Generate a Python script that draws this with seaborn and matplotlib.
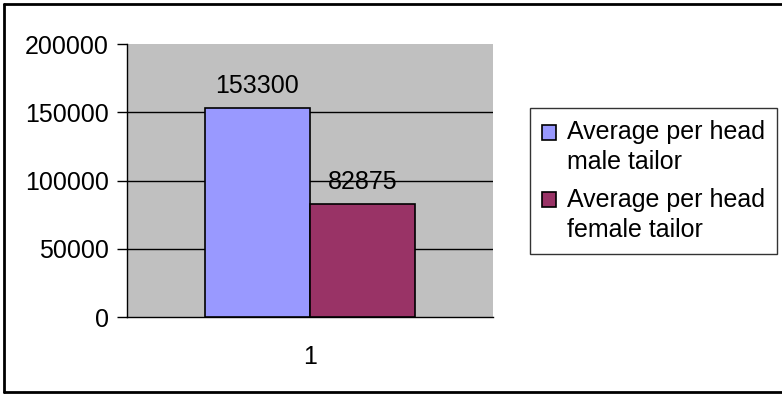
import pandas as pd
import matplotlib.pyplot as plt
import seaborn as sns
from matplotlib.patches import Rectangle
from matplotlib.lines import Line2D
from matplotlib.legend_handler import HandlerPatch

categories = ["1", "1"]
series = ["Average per head\nmale tailor", "Average per head\nfemale tailor"]
values = [153300, 82875]
colors = ["#9999FF", "#993366"]
yticks = [0, 50000, 100000, 150000, 200000]

df = pd.DataFrame({"cat": categories, "series": series, "value": values})

sns.set_style("white")
plt.rcParams["font.family"] = ["Liberation Sans", "DejaVu Sans"]
plt.rcParams["text.color"] = "black"
plt.rcParams["xtick.color"] = "black"
plt.rcParams["ytick.color"] = "black"

fig = plt.figure(figsize=(7.82, 3.94), dpi=100)
ax = fig.add_axes([0.1624, 0.1954, 0.468, 0.6929])
ax.set_facecolor("#C0C0C0")

sns.barplot(data=df, x="cat", y="value", hue="series", palette=colors, saturation=1,
            width=0.574, edgecolor="black", linewidth=1.2, ax=ax, zorder=3)

for c in ax.containers:
    ax.bar_label(c, fmt="%d", padding=7, fontsize=18, color="black", zorder=4)

ax.set_ylim(0, 200000)
ax.set_yticks(yticks)
ax.set_yticklabels([str(t) for t in yticks], fontsize=18)
ax.set_xlim(-0.5, 0.5)
ax.set_xticks([0])
ax.set_xticklabels(["1"], fontsize=18)
ax.set_xticks([-0.5, 0.5], minor=True)
ax.tick_params(axis="x", which="major", length=0, pad=20, labelcolor="black")
ax.tick_params(axis="x", which="minor", length=7, width=1, color="black", direction="out")
ax.tick_params(axis="y", length=7, width=1, color="black", direction="out", left=True,
               pad=6, labelcolor="black")
ax.set_xlabel("")
ax.set_ylabel("")

for y in yticks[1:-1]:
    ax.axhline(y, color="black", linewidth=1, zorder=1)

for s in ["top", "right"]:
    ax.spines[s].set_visible(False)
for s in ["left", "bottom"]:
    ax.spines[s].set_color("black")
    ax.spines[s].set_linewidth(1)


# legend square sits on the first text line, as in Excel
def top_square(legend, orig_handle, xdescent, ydescent, width, height, fontsize):
    return Rectangle((-xdescent, -ydescent + 0.62 * fontsize), width, height)


handles, labels = ax.get_legend_handles_labels()
leg = ax.legend(handles, labels, loc="upper left", bbox_to_anchor=(1.101, 0.766),
                fontsize=18, frameon=True, fancybox=False, edgecolor="black",
                handlelength=0.55, handleheight=0.55, handletextpad=0.42,
                borderpad=0.5, labelspacing=0.55, borderaxespad=0,
                handler_map={h: HandlerPatch(patch_func=top_square) for h in handles})
leg.get_frame().set_linewidth(1)
for t in leg.get_texts():
    t.set_linespacing(1.3)
    t.set_color("black")

# chart border: top, left and bottom (right edge is cut off)
for xs, ys in [([0.005, 1.0], [0.99, 0.99]), ([0.005, 0.005], [0.005, 0.99]),
               ([0.005, 1.0], [0.005, 0.005])]:
    fig.add_artist(Line2D(xs, ys, transform=fig.transFigure, color="black", linewidth=2))

fig.savefig("out.png", dpi=100)
